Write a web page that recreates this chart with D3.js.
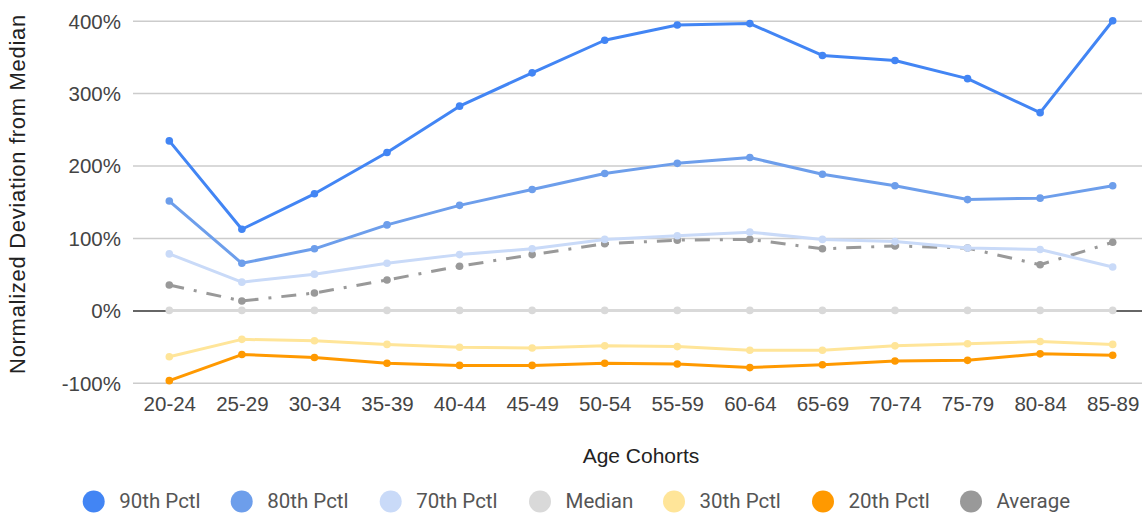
<!DOCTYPE html>
<html>
<head>
<meta charset="utf-8">
<script src="https://cdn.jsdelivr.net/npm/d3@7"></script>
<style>
  html, body { margin: 0; padding: 0; background: #fff; }
  svg { display: block; }
</style>
</head>
<body>
<svg id="chart" width="1142" height="516"></svg>
<script>
// Age cohorts along the x axis
const cohorts = ["20-24","25-29","30-34","35-39","40-44","45-49","50-54","55-59","60-64","65-69","70-74","75-79","80-84","85-89"];

// Normalized deviation from the median, in percent
const pctl90 = [234, 112, 161, 218, 282, 328, 373, 394, 396, 352, 345, 320, 273, 400];
const pctl80 = [151, 65, 85, 118, 145, 167, 189, 203, 211, 188, 172, 153, 155, 172];
const pctl70 = [78, 39, 50, 65, 77, 85, 98, 103, 108, 98, 95, 86, 84, 60];
const median = [0, 0, 0, 0, 0, 0, 0, 0, 0, 0, 0, 0, 0, 0];
const pctl30 = [-64, -40, -42, -47, -51, -52, -49, -50, -55, -55, -49, -46, -43, -47];
const pctl20 = [-97, -61, -65, -73, -76, -76, -73, -74, -79, -75, -70, -69, -60, -62];
const average = [35, 13, 24, 42, 61, 77, 92, 97, 98, 85, 89, 86, 63, 94];

const yTicks = [-100, 0, 100, 200, 300, 400];

const series = [
  { name: "90th Pctl", values: pctl90, color: "#4285F4" },
  { name: "80th Pctl", values: pctl80, color: "#6D9EEB" },
  { name: "70th Pctl", values: pctl70, color: "#C9DAF8" },
  { name: "Median", values: median, color: "#D9D9D9" },
  { name: "30th Pctl", values: pctl30, color: "#FFE599" },
  { name: "20th Pctl", values: pctl20, color: "#FF9900" },
  { name: "Average", values: average, color: "#999999", dash: "15,10,3,10" }
];

const svg = d3.select("#chart");
const plotLeft = 133, plotRight = 1149;
const labelFont = "'Liberation Sans', Arial, sans-serif";

const x = d3.scalePoint().domain(cohorts).range([169.3, 1112.7]);
const y = d3.scaleLinear().domain([-100, 400]).range([382.8, 20.7]);

// Horizontal gridlines with percentage labels
const yAxis = d3.axisLeft(y)
  .tickValues(yTicks)
  .tickSize(-(plotRight - plotLeft))
  .tickFormat(d => d + "%");

const gy = svg.append("g")
  .attr("transform", `translate(${plotLeft},0)`)
  .call(yAxis);
gy.select(".domain").remove();
gy.selectAll(".tick line")
  .attr("stroke", d => d === 0 ? "#333333" : "#cccccc")
  .attr("stroke-width", 1.5);
gy.selectAll(".tick text")
  .attr("x", -12)
  .attr("dy", "0.36em")
  .attr("fill", "#444444")
  .style("font-family", labelFont)
  .style("font-size", "20.5px");

// Category labels
const xAxis = d3.axisBottom(x).tickSize(0).tickPadding(0);
const gx = svg.append("g")
  .attr("transform", "translate(0,410.5)")
  .call(xAxis);
gx.select(".domain").remove();
gx.selectAll(".tick text")
  .attr("dy", null)
  .attr("y", 0)
  .attr("fill", "#444444")
  .style("font-family", labelFont)
  .style("font-size", "20.5px");

// Series lines and points
const line = d3.line()
  .x((d, i) => x(cohorts[i]))
  .y(d => y(d));

// median goes first so the other series sit on top of it
const drawOrder = [3, 6, 2, 1, 0, 4, 5];
drawOrder.forEach(k => {
  const s = series[k];
  const g = svg.append("g");
  g.append("path")
    .datum(s.values)
    .attr("fill", "none")
    .attr("stroke", s.color)
    .attr("stroke-width", 3)
    .attr("stroke-linejoin", "round")
    .attr("stroke-dasharray", s.dash || null)
    .attr("d", line);
  g.selectAll("circle")
    .data(s.values)
    .join("circle")
    .attr("cx", (d, i) => x(cohorts[i]))
    .attr("cy", d => y(d))
    .attr("r", 3.8)
    .attr("fill", s.color);
});

// Axis titles
svg.append("text")
  .attr("transform", "translate(25,194) rotate(-90)")
  .attr("text-anchor", "middle")
  .attr("fill", "#222222")
  .style("font-family", labelFont)
  .style("font-size", "22px")
  .style("letter-spacing", "0.7px")
  .text("Normalized Deviation from Median");

svg.append("text")
  .attr("x", 641)
  .attr("y", 463)
  .attr("text-anchor", "middle")
  .attr("fill", "#222222")
  .style("font-family", labelFont)
  .style("font-size", "21px")
  .text("Age Cohorts");

// Legend
const legendX = [93.7, 241.7, 390.7, 540, 674, 823, 971];
const legend = svg.append("g");
series.forEach((s, i) => {
  const g = legend.append("g").attr("transform", `translate(${legendX[i]},501.5)`);
  g.append("circle").attr("r", 11).attr("fill", s.color);
  g.append("text")
    .attr("x", 25.5)
    .attr("y", 6)
    .attr("fill", "#555555")
    .style("font-family", "Roboto, sans-serif")
    .style("font-size", "20.5px")
    .text(s.name);
});
</script>
</body>
</html>
